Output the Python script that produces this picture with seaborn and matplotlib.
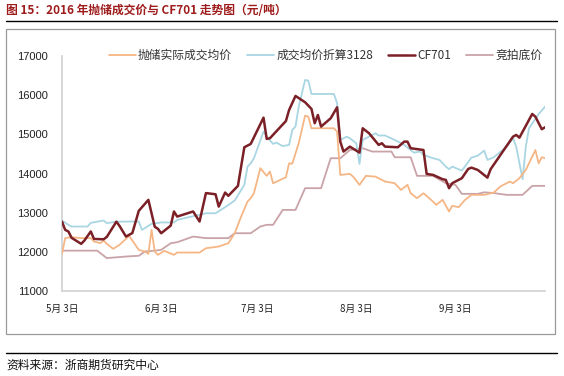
import numpy as np
import pandas as pd
import matplotlib
matplotlib.use("Agg")
import matplotlib.pyplot as plt
from matplotlib.lines import Line2D
from matplotlib.patches import Rectangle
import seaborn as sns

# ---------------- data (day offsets from 2016-05-03) ----------------
start = "2016-05-03"

orange_days = [0, 1, 3, 6, 9, 10, 12, 13, 14, 16, 18, 21, 22, 24, 26, 27, 28, 29, 30, 32, 35, 36,
               43, 45, 49, 52, 54, 56, 58, 59, 60, 62, 64, 65, 66, 70, 71, 72, 74, 76, 77, 78,
               85, 86, 87, 90, 91, 93, 95, 98, 101, 104, 106, 108, 109, 111, 113, 116, 117, 119,
               121, 122, 124, 126, 128, 132, 135, 137, 140, 141, 143, 145, 148, 149, 150, 151]
orange_vals = [11950, 12350, 12375, 12350, 12350, 12263, 12220, 12290, 12204, 12077, 12180, 12408,
               12290, 12050, 12005, 11950, 12560, 12005, 11923, 12025, 11923, 11982,
               11982, 12092, 12135, 12220, 12475, 12900, 13283, 13370, 13497, 14135, 13940, 14050,
               13750, 13905, 14260, 14250, 14773, 15477, 15450, 15155,
               15155, 15070, 13964, 13990, 13920, 13710, 13940, 13920, 13795, 13752, 13580, 13710,
               13497, 13370, 13497, 13283, 13200, 13327,
               13030, 13173, 13140, 13327, 13455, 13455, 13513, 13667, 13795, 13752, 13880, 14090,
               14600, 14260, 14415, 14390]

blue_days = [0, 2, 3, 8, 9, 13, 14, 17, 24, 25, 28, 31, 35, 36, 45, 48, 51, 54, 57, 58, 59, 60,
             63, 64, 66, 67, 69, 71, 72, 73, 74, 76, 77, 78, 85, 86, 87, 89, 90, 92, 93, 94, 98,
             99, 101, 104, 107, 109, 110, 112, 113, 116, 118, 119, 120, 121, 122, 125, 128, 130,
             132, 133, 135, 139, 141, 142, 144, 145, 146, 149, 151]
blue_vals = [12800, 12689, 12646, 12646, 12740, 12800, 12733, 12770, 12775, 12560, 12714, 12750,
             12750, 12816, 12985, 12985, 13140, 13310, 13710, 14176, 14260, 14390,
             15070, 14940, 14755, 14790, 14700, 14730, 15112, 15200, 15706, 16388, 16370, 16030,
             16030, 15800, 14857, 14940, 14900, 14772, 14245, 14857, 15027,
             14970, 14970, 14857, 14730, 14600, 14533, 14560, 14475, 14390, 14347, 14260, 14176,
             14110, 14176, 14075, 14405, 14456,
             14584, 14347, 14415, 14686, 14900, 14686, 13855, 14686, 15155, 15513, 15706]

cf_days = [0, 1, 2, 3, 6, 7, 9, 10, 13, 14, 17, 18, 20, 22, 24, 27, 29, 30, 31, 34, 35, 36, 41,
           43, 45, 48, 49, 51, 52, 55, 57, 59, 63, 64, 65, 70, 71, 73, 76, 78, 79, 80, 81, 84,
           86, 87, 88, 90, 93, 94, 96, 99, 100, 101, 105, 107, 108, 109, 113, 114, 116, 119,
           120, 121, 122, 125, 127, 128, 130, 133, 134, 141, 142, 143, 147, 148, 150, 151]
cf_vals = [12770, 12560, 12520, 12357, 12204, 12288, 12520, 12330, 12320, 12380, 12770, 12660,
           12390, 12480, 13046, 13327, 12640, 12587, 12475, 12670, 13030, 12900, 13030,
           12774, 13500, 13470, 13155, 13513, 13430, 13684, 14670, 14755, 15426, 14882, 14900,
           15340, 15622, 15980, 15819, 15648, 15283, 15495, 15197, 15410,
           15690, 14814, 14560, 14686, 14533, 15155, 15027, 14730, 14773, 14686, 14670, 14814,
           14814, 14645, 14600, 13990, 13964, 13854,
           13837, 13625, 13752, 13880, 14117, 14150, 14090, 13895, 14110, 14940, 14985, 14915,
           15520, 15450, 15130, 15180]

mauve_days = [0, 11, 14, 20, 24, 26, 29, 31, 34, 36, 41, 45, 52, 54, 59, 62, 64, 66, 69, 73, 76,
              81, 84, 87, 90, 94, 97, 103, 104, 109, 111, 116, 120, 123, 125, 130, 132, 135,
              139, 144, 147, 151]
mauve_vals = [12030, 12030, 11840, 11880, 11900, 12010, 12030, 12050, 12220, 12245, 12390, 12350,
              12350, 12475, 12475, 12646, 12690, 12690, 13070, 13070, 13625,
              13625, 14390, 14390, 14600, 14645, 14560, 14560, 14415, 14415, 13940, 13940, 13752,
              13710, 13480, 13480, 13520, 13500, 13455, 13455, 13684, 13684]

series_names = ["抛储实际成交均价", "成交均价折算3128", "CF701", "竞拍底价"]
tick_days = [0, 31, 61, 92, 123]
tick_labels = ["5月 3日", "6月 3日", "7月 3日", "8月 3日", "9月 3日"]

# ---------------- style ----------------
sns.set_theme(style="white")
plt.rcParams["font.family"] = ["Noto Sans CJK SC", "DejaVu Sans"]

colors = {"抛储实际成交均价": "#F5B685", "成交均价折算3128": "#A9D6E3",
          "CF701": "#7A2026", "竞拍底价": "#C9A3A7"}
widths = {"抛储实际成交均价": 1.3, "成交均价折算3128": 1.3, "CF701": 1.8, "竞拍底价": 1.3}
zorders = {"抛储实际成交均价": 3, "成交均价折算3128": 2, "CF701": 4, "竞拍底价": 1}

t0 = pd.Timestamp(start)
def to_dates(days):
    return t0 + pd.to_timedelta(days, unit="D")

frames = []
for name, d, v in [(series_names[0], orange_days, orange_vals),
                   (series_names[1], blue_days, blue_vals),
                   (series_names[2], cf_days, cf_vals),
                   (series_names[3], mauve_days, mauve_vals)]:
    frames.append(pd.DataFrame({"date": to_dates(d), "value": v, "series": name}))
df = pd.concat(frames, ignore_index=True)

fig = plt.figure(figsize=(5.64, 3.76), dpi=100)
ax = fig.add_axes([62 / 564, 1 - 291 / 376, (545 - 62) / 564, (291 - 56) / 376])

for name in series_names:
    sub = df[df["series"] == name]
    sns.lineplot(data=sub, x="date", y="value", ax=ax, color=colors[name],
                 linewidth=widths[name], zorder=zorders[name], legend=False)

ax.set_xlim(to_dates([0])[0], to_dates([151])[0])
ax.set_ylim(11000, 17000)
ax.set_yticks(np.arange(11000, 17001, 1000))
ax.set_yticklabels([str(v) for v in range(11000, 17001, 1000)],
                   family=["Liberation Sans", "DejaVu Sans"], fontsize=8, color="#222222")
ax.set_xticks(to_dates(tick_days))
ax.set_xticklabels(tick_labels, fontsize=7, color="#222222")
ax.tick_params(axis="both", length=0, pad=10)
ax.tick_params(axis="x", pad=9)
ax.set_xlabel("")
ax.set_ylabel("")
for s in ["top", "right"]:
    ax.spines[s].set_visible(False)
for s in ["left", "bottom"]:
    ax.spines[s].set_color("#D4D4D4")
    ax.spines[s].set_linewidth(1.3)
ax.grid(False)

handles = [Line2D([0], [0], color=colors[n], lw=widths[n]) for n in series_names]
leg = ax.legend(handles, series_names, ncol=4, loc="upper left",
                bbox_to_anchor=(0.075, 1.075), frameon=False, fontsize=8.5,
                handlelength=2.3, handletextpad=0.15, columnspacing=1.3)
for t in leg.get_texts():
    t.set_color("#333333")

# frame, rules, title, source
fig.patches.append(Rectangle((6 / 564, 1 - 334 / 376), (555 - 6) / 564, (334 - 29) / 376,
                             transform=fig.transFigure, fill=False, edgecolor="#9A9A9A",
                             linewidth=0.9))
fig.add_artist(Line2D([6 / 564, 557 / 564], [1 - 21 / 376, 1 - 21 / 376],
                      transform=fig.transFigure, color="black", lw=1.0))
fig.add_artist(Line2D([6 / 564, 557 / 564], [1 - 353 / 376, 1 - 353 / 376],
                      transform=fig.transFigure, color="black", lw=1.0))
fig.text(6 / 564, 1 - 10 / 376, "图 15：2016 年抛储成交价与 CF701 走势图（元/吨）",
         fontsize=8.5, fontweight="bold", color="#9E1C1C", va="center", ha="left")
fig.text(6 / 564, 1 - 365 / 376, "资料来源：浙商期货研究中心",
         fontsize=8.5, color="#111111", va="center", ha="left")

fig.savefig("out.png", dpi=100)
